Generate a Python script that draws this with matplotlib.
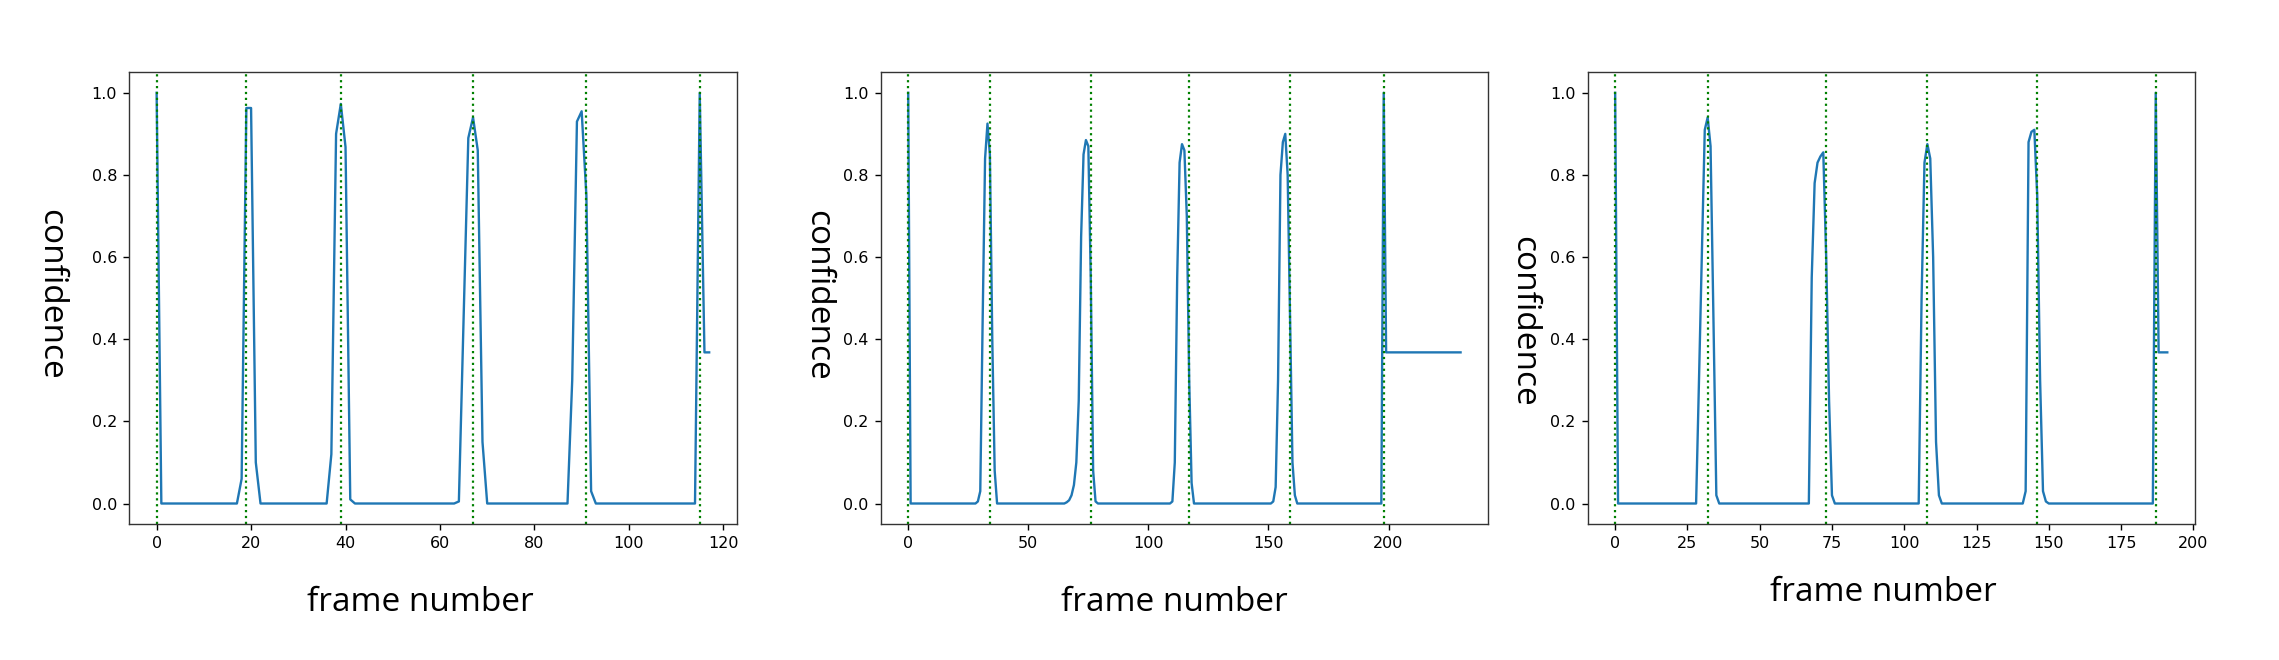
import matplotlib
matplotlib.use("Agg")
import matplotlib.pyplot as plt

# ---- data (polyline vertices) ----
frames1 = [0, 1, 17, 18, 19, 20, 21, 22, 36, 37, 38, 39, 40, 41, 42, 63, 64, 65, 66, 67, 68, 69, 70,
           87, 88, 89, 90, 91, 92, 93, 114, 115, 116, 117]
conf1 = [1.0, 0.0, 0.0, 0.06, 0.963, 0.963, 0.1, 0.0, 0.0, 0.12, 0.9, 0.973, 0.868, 0.01, 0.0,
         0.0, 0.005, 0.45, 0.89, 0.94, 0.86, 0.15, 0.0,
         0.0, 0.3, 0.93, 0.955, 0.75, 0.03, 0.0, 0.0, 1.0, 0.368, 0.368]
events1 = [0, 19, 39, 67, 91, 115]

frames2 = [0, 1, 28, 29, 30, 31, 32, 33, 34, 35, 36, 37,
           65, 66, 67, 68, 69, 70, 71, 72, 73, 74, 75, 76, 77, 78, 79,
           109, 110, 111, 112, 113, 114, 115, 116, 117, 118, 119,
           151, 152, 153, 154, 155, 156, 157, 158, 159, 160, 161, 162,
           197, 198, 199, 230]
conf2 = [1.0, 0.0, 0.0, 0.005, 0.03, 0.45, 0.84, 0.925, 0.85, 0.4, 0.08, 0.0,
         0.0, 0.003, 0.008, 0.02, 0.045, 0.1, 0.25, 0.65, 0.85, 0.885, 0.87, 0.55, 0.08, 0.005, 0.0,
         0.0, 0.005, 0.1, 0.55, 0.83, 0.875, 0.86, 0.7, 0.3, 0.05, 0.0,
         0.0, 0.005, 0.04, 0.3, 0.8, 0.88, 0.9, 0.8, 0.45, 0.1, 0.02, 0.0,
         0.0, 1.0, 0.368, 0.368]
events2 = [0, 34, 76, 117, 159, 198]

frames3 = [0, 1, 28, 29, 30, 31, 32, 33, 34, 35, 36,
           67, 68, 69, 70, 71, 72, 73, 74, 75, 76,
           105, 106, 107, 108, 109, 110, 111, 112, 113,
           140, 141, 142, 143, 144, 145, 146, 147, 148, 149, 150,
           186, 187, 188, 191]
conf3 = [1.0, 0.0, 0.0, 0.3, 0.61, 0.91, 0.94, 0.87, 0.45, 0.02, 0.0,
         0.0, 0.55, 0.78, 0.83, 0.845, 0.855, 0.6, 0.25, 0.02, 0.0,
         0.0, 0.5, 0.83, 0.875, 0.84, 0.6, 0.15, 0.02, 0.0,
         0.0, 0.0, 0.03, 0.88, 0.905, 0.91, 0.75, 0.3, 0.03, 0.005, 0.0,
         0.0, 1.0, 0.368, 0.368]
events3 = [0, 32, 73, 108, 146, 187]

y_ticks = [0.0, 0.2, 0.4, 0.6, 0.8, 1.0]
x_ticks = [[0, 20, 40, 60, 80, 100, 120],
           [0, 50, 100, 150, 200],
           [0, 25, 50, 75, 100, 125, 150, 175, 200]]
xlabel_text = "frame number"
ylabel_text = "confidence"

# ---- layout ----
fig = plt.figure(figsize=(22.79, 6.6), dpi=100)
bottom, top = 0.206, 0.8905
lefts = [0.0566, 0.3864, 0.6966]
widths = [0.2667, 0.2666, 0.2665]

series = [(frames1, conf1, events1), (frames2, conf2, events2), (frames3, conf3, events3)]

ylabel_pos = [(0.0224, 0.5545), (0.3589, 0.553), (0.6687, 0.5136)]
xlabel_pos = [(0.1846, 0.0864), (0.5151, 0.0864), (0.8262, 0.1030)]

for i, (fr, cf, ev) in enumerate(series):
    ax = fig.add_axes([lefts[i], bottom, widths[i], top - bottom])
    ax.plot(fr, cf, color="#1f77b4", linewidth=1.7)
    for e in ev:
        ax.axvline(e, color="green", linestyle=":", linewidth=1.6)
    ax.set_yticks(y_ticks)
    ax.set_xticks(x_ticks[i])
    ax.tick_params(labelsize=11.5, length=4.5, width=1.0, pad=4)
    for s in ax.spines.values():
        s.set_linewidth(1.0)
        s.set_color("#333333")
    ax.margins(x=0.05, y=0.05)
    fig.text(ylabel_pos[i][0], ylabel_pos[i][1], ylabel_text, rotation=270,
             ha="center", va="center", fontsize=24, family="Open Sans")
    fig.text(xlabel_pos[i][0], xlabel_pos[i][1], xlabel_text,
             ha="center", va="center", fontsize=24, family="Open Sans")

fig.savefig("out.png", dpi=100)
